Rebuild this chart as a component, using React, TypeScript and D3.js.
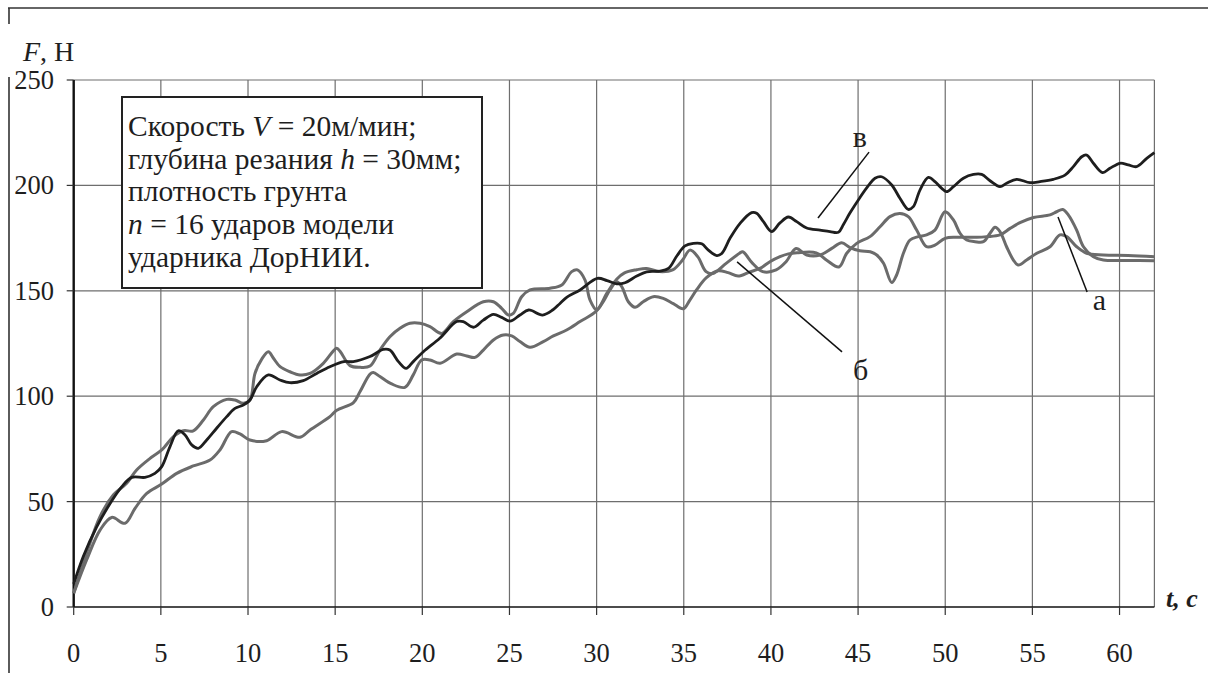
import React, { useEffect } from 'react';
import * as d3 from 'd3';

const W = 1208;
const H = 673;

const xTicks = [0, 5, 10, 15, 20, 25, 30, 35, 40, 45, 50, 55, 60];
const yTicks = [0, 50, 100, 150, 200, 250];

// curve "в" (black)
const seriesV: [number, number][] = [
  [0, 11], [0.55, 24], [1.32, 38], [2.08, 49], [2.75, 57], [3.33, 61.5], [4.09, 61.5], [4.66, 63.4], [5.05, 66.6], [5.52, 76],
  [6.0, 83.6], [6.39, 81.6], [6.77, 76.9], [7.15, 75.3], [7.63, 79.2], [8.2, 84.8], [8.78, 90.3], [9.25, 94.2], [9.73, 95.8], [10.11, 98.2],
  [10.5, 104.5], [11.17, 110.1], [11.83, 107.7], [12.4, 106.4], [13.17, 107.4], [13.94, 110.8], [14.7, 114], [15.5, 116.4], [16.04, 116.4], [17.0, 118.8],
  [17.76, 122.2], [18.14, 121.9], [18.63, 116.4], [19.07, 113.2], [19.48, 116.4], [20.06, 121.1], [21.0, 127.5], [21.97, 135.4], [22.35, 135.4], [22.93, 132.7],
  [23.5, 136.1], [24.08, 138.8], [24.55, 137.4], [25.03, 135.6], [25.6, 138.5], [26.1, 140.9], [26.9, 138.5], [27.5, 141], [27.9, 144], [28.3, 147],
  [29.05, 150.4], [30.04, 155.9], [30.6, 154.8], [31.15, 153.3], [31.63, 153.8], [32.3, 157], [32.87, 159], [33.64, 159.3], [34.12, 160.6], [34.6, 166.5],
  [35.07, 171.3], [35.55, 172.5], [36.03, 172.3], [36.41, 169.3], [36.89, 166.7], [37.18, 167.7], [37.66, 175], [38.23, 182], [38.89, 187.1], [39.18, 186.8],
  [39.57, 182.8], [40.04, 178.1], [40.52, 182.2], [41.0, 185], [41.48, 182.8], [42.05, 179.8], [42.82, 178.8], [43.39, 178.1], [43.87, 177.8], [44.16, 181.5],
  [44.54, 187], [45.11, 194.3], [45.6, 200], [45.97, 203.4], [46.35, 204.1], [46.93, 200.2], [47.4, 193.9], [47.88, 188.6], [48.17, 189.9], [48.55, 197.8],
  [49.03, 203.8], [49.41, 201.8], [49.8, 198.6], [50.08, 197], [50.47, 199.4], [51.04, 203.4], [51.62, 205.2], [52.09, 205.2], [52.57, 202.2], [53.14, 199.4],
  [53.52, 201], [54.1, 202.9], [54.86, 201.3], [55.44, 201.8], [56.2, 202.9], [56.87, 204.9], [57.35, 208.9], [57.83, 213.6], [58.11, 214.4], [58.5, 210.5],
  [59.03, 206.1], [59.45, 208.1], [60.03, 210.5], [60.5, 209.7], [60.98, 208.9], [61.56, 212.8], [62.0, 215.5],
];

// curve "а" (gray)
const seriesA: [number, number][] = [
  [0, 6.5], [0.74, 25.5], [1.51, 42.9], [2.27, 53.1], [3.04, 58.7], [3.61, 65], [4.38, 70.5], [5.05, 74.5], [5.72, 80.8], [6.29, 83.6],
  [6.86, 83.6], [7.44, 88.7], [8.01, 95], [8.78, 98.5], [9.25, 98.2], [9.73, 96.6], [10.11, 98.2], [10.4, 110.8], [10.78, 117.5], [11.17, 121.1],
  [11.46, 118], [11.84, 114], [12.41, 111.6], [12.98, 110.1], [13.56, 110.8], [14.32, 115.6], [14.9, 121.5], [15.09, 122.7], [15.3, 121.1], [15.85, 114.5],
  [16.43, 113.7], [17.0, 114.3], [17.57, 121.9], [18.14, 128.2], [18.72, 132.2], [19.29, 134.6], [19.87, 134.6], [20.44, 133], [21.11, 129.8], [21.78, 135.4],
  [22.55, 140.1], [23.5, 144.8], [24.08, 144.8], [24.55, 141.7], [24.94, 138.5], [25.22, 139.3], [25.7, 147.2], [26.18, 150.4], [27.33, 151.2], [28.0, 152.8],
  [28.57, 159.1], [28.9, 159.9], [29.33, 155.2], [29.62, 145.7], [30.0, 141], [30.39, 145], [30.77, 150.5], [31.15, 154.3], [31.44, 152], [31.82, 144.8],
  [32.2, 142.2], [32.67, 144.8], [33.25, 147.2], [33.82, 146.4], [34.4, 143.9], [34.97, 141.5], [35.35, 145.6], [35.73, 150.4], [36.3, 156.2], [36.97, 159.5],
  [37.54, 158.6], [38.12, 157], [38.79, 159], [39.37, 160.6], [39.94, 163.8], [40.52, 166.2], [41.0, 167.5], [41.5, 168], [42.6, 168], [43.2, 164.5],
  [43.9, 161.3], [44.35, 167.8], [44.92, 172.5], [45.68, 175.7], [46.26, 180.4], [46.83, 185.2], [47.4, 186.7], [47.88, 185.2], [48.36, 178.8], [48.93, 170.9],
  [49.41, 171.7], [49.99, 174.9], [50.66, 175.4], [51.81, 175.4], [52.38, 175.7], [53.14, 176.5], [53.72, 179.6], [54.29, 182.3], [55.06, 184.8], [56.01, 186],
  [56.39, 187.5], [56.74, 188.6], [57.06, 186], [57.54, 178.8], [57.93, 170.9], [58.5, 166.2], [59.07, 164.6], [60.5, 164.4], [62, 164.3],
];

// curve "б" (gray)
const seriesB: [number, number][] = [
  [0, 6.5], [0.74, 22.3], [1.51, 36.5], [2.18, 42.5], [2.94, 39.7], [3.52, 46.8], [4.19, 53.9], [5.05, 58.3], [5.91, 63.4], [6.86, 66.9],
  [7.82, 69.7], [8.39, 74.5], [9.06, 83.2], [9.54, 82.1], [10.11, 79.2], [11.07, 78.9], [11.93, 83.2], [12.98, 80.5], [13.56, 84], [14.7, 90.3],
  [15.09, 93.3], [16.05, 97], [16.43, 102.2], [17.0, 110.5], [17.19, 111.2], [17.57, 109.3], [18.24, 105.8], [19.0, 104.2], [19.48, 110.1], [19.96, 117.2],
  [20.44, 117.2], [21.02, 115.6], [21.97, 120], [22.55, 119.1], [23.02, 118.4], [23.5, 121.9], [24.08, 126.7], [24.65, 129], [25.13, 128.6], [25.6, 125.9],
  [26.18, 123.2], [26.94, 125.9], [27.52, 128.6], [28.28, 131.4], [29.05, 135.4], [30.0, 140.5], [30.6, 149], [31.15, 155.5], [31.6, 158.5], [32.3, 160],
  [32.87, 160.6], [33.6, 159.1], [34.36, 159.9], [34.93, 164.6], [35.35, 169.3], [35.8, 166.2], [36.28, 159.1], [36.66, 158.2], [37.43, 163], [38.2, 167.8],
  [38.38, 168.5], [38.95, 163], [39.53, 159.1], [40.3, 159.9], [40.87, 163.8], [41.44, 170.1], [42.05, 167], [42.82, 167], [43.49, 170.1], [44.06, 172.8],
  [44.54, 170.5], [45.1, 169], [45.7, 168.5], [46.07, 167], [46.46, 163.1], [46.93, 153.9], [47.21, 157.5], [47.6, 167.8], [47.98, 174.1], [48.46, 175.7],
  [48.93, 176.5], [49.41, 178.8], [49.99, 187.5], [50.47, 183.6], [50.85, 177.3], [51.23, 174.1], [51.71, 173.3], [52.19, 173.3], [52.57, 177.3], [52.86, 180.1],
  [53.14, 178.1], [53.52, 170.9], [53.91, 164.6], [54.19, 162.2], [54.67, 164.6], [55.25, 167.8], [56.01, 170.9], [56.58, 176.5], [56.97, 175.7], [57.54, 170.9],
  [58.11, 167.8], [59.07, 167], [60.5, 166.8], [62, 166.2],
];

// annotation pointers: label, curve point, line end, label anchor (data units)
const annotations = [
  { label: 'в', from: [42.7, 184.5], to: [45.63, 215.8], text: [45.1, 218.2] },
  { label: 'а', from: [56.47, 185], to: [58.14, 149.4], text: [58.85, 141] },
  { label: 'б', from: [38.06, 163.7], to: [44.08, 121], text: [45.15, 107.7] },
];

const legendLines: { t: string; i?: boolean }[][] = [
  [{ t: 'Скорость ' }, { t: 'V', i: true }, { t: ' = 20м/мин;' }],
  [{ t: 'глубина резания ' }, { t: 'h', i: true }, { t: ' = 30мм;' }],
  [{ t: 'плотность грунта' }],
  [{ t: 'n', i: true }, { t: ' = 16 ударов модели' }],
  [{ t: 'ударника ДорНИИ.' }],
];

function T(props: any) {
  const { size, italic, bold, children, ...rest } = props;
  return (
    <text
      fontSize={size}
      fontStyle={italic ? 'italic' : undefined}
      fontWeight={bold ? 'bold' : undefined}
      fill="#1e1e1e"
      {...rest}
    >
      {children}
    </text>
  );
}

export default function App() {
  useEffect(() => {
    document.body.style.margin = '0';
  }, []);

  const x = d3.scaleLinear().domain([0, 62]).range([73.7, 1154.4]);
  const y = d3.scaleLinear().domain([0, 250]).range([607, 80]);
  const line = d3
    .line<[number, number]>()
    .x((d) => x(d[0]))
    .y((d) => y(d[1]))
    .curve(d3.curveCatmullRom.alpha(0.5));

  const gridColor = '#6e6e6e';
  const grayCurve = '#6b6b6b';

  return (
    <svg width={W} height={H} style={{ position: 'absolute', left: 0, top: 0, background: '#fff' }}>
      <rect x={0} y={0} width={W} height={H} fill="#fff" />
      {/* outer frame */}
      <line x1={8} x2={W} y1={8} y2={8} stroke="#333" strokeWidth={1.6} />
      <line x1={9} x2={9} y1={8} y2={24} stroke="#333" strokeWidth={1.6} />
      <line x1={9} x2={9} y1={77} y2={H} stroke="#333" strokeWidth={1.6} />

      {/* grid */}
      {xTicks.filter((t) => t > 0).map((t) => (
        <line key={'gx' + t} x1={x(t)} x2={x(t)} y1={y(250)} y2={y(0)} stroke={gridColor} strokeWidth={1.2} />
      ))}
      <line x1={x(62)} x2={x(62)} y1={y(250)} y2={y(0)} stroke={gridColor} strokeWidth={1.2} />
      {yTicks.filter((t) => t > 0).map((t) => (
        <line key={'gy' + t} x1={x(0)} x2={x(62)} y1={y(t)} y2={y(t)} stroke={gridColor} strokeWidth={1.2} />
      ))}

      {/* axes */}
      <line x1={x(0)} x2={x(62)} y1={y(0)} y2={y(0)} stroke="#111" strokeWidth={1.6} />
      <line x1={x(0)} x2={x(0)} y1={y(250)} y2={y(0)} stroke="#111" strokeWidth={2.4} />
      {xTicks.map((t) => (
        <line key={'tx' + t} x1={x(t)} x2={x(t)} y1={y(0)} y2={y(0) + 8} stroke="#333" strokeWidth={1.2} />
      ))}
      {yTicks.map((t) => (
        <line key={'ty' + t} x1={x(0) - 7} x2={x(0)} y1={y(t)} y2={y(t)} stroke="#333" strokeWidth={1.2} />
      ))}

      {/* tick labels */}
      {xTicks.map((t) => (
        <T key={'lx' + t} x={x(t)} y={662} textAnchor="middle" size={26.5}>
          {t}
        </T>
      ))}
      {yTicks.map((t) => (
        <T key={'ly' + t} x={54} y={y(t) + 9} textAnchor="end" size={26.5}>
          {t}
        </T>
      ))}

      {/* axis titles */}
      <T x={23} y={61} size={28}>
        <tspan fontStyle="italic">F</tspan>
        <tspan>, Н</tspan>
      </T>
      <T x={1166} y={607} size={26} italic bold>
        t, c
      </T>

      {/* curves */}
      <path d={line(seriesA) || ''} fill="none" stroke={grayCurve} strokeWidth={3} strokeLinejoin="round" />
      <path d={line(seriesB) || ''} fill="none" stroke={grayCurve} strokeWidth={3} strokeLinejoin="round" />
      <path d={line(seriesV) || ''} fill="none" stroke="#1e1e1e" strokeWidth={2.8} strokeLinejoin="round" />

      {/* annotations */}
      {annotations.map((a) => (
        <g key={a.label}>
          <line x1={x(a.from[0])} y1={y(a.from[1])} x2={x(a.to[0])} y2={y(a.to[1])} stroke="#111" strokeWidth={1.5} />
          <T x={x(a.text[0])} y={y(a.text[1])} textAnchor="middle" size={30}>
            {a.label}
          </T>
        </g>
      ))}

      {/* legend box */}
      <rect x={122} y={97} width={360} height={191} fill="#fff" stroke="#222" strokeWidth={2} />
      {legendLines.map((ln, i) => (
        <T key={'lg' + i} x={128} y={136 + i * 32.7} size={29.5}>
          {ln.map((s, j) => (
            <tspan key={j} fontStyle={s.i ? 'italic' : 'normal'}>
              {s.t}
            </tspan>
          ))}
        </T>
      ))}
    </svg>
  );
}
